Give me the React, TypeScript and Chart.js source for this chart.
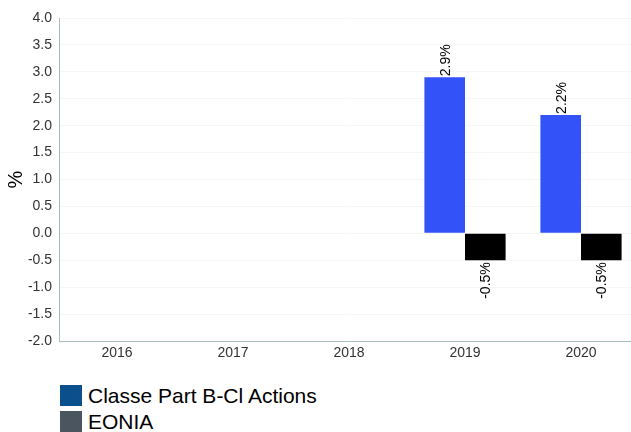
import React, { useEffect, useRef } from "react";
import { Chart, registerables } from "chart.js";

Chart.register(...registerables);

const categories = ["2016", "2017", "2018", "2019", "2020"];
const fundValues: (number | null)[] = [null, null, null, 2.9, 2.2];
const benchValues: (number | null)[] = [null, null, null, -0.5, -0.5];
const seriesNames = ["Classe Part B-Cl Actions", "EONIA"];
const barColors = ["#3352F7", "#000000"];
const legendColors = ["#0B4F8C", "#4A555F"];

const FONT = "Arial, 'Liberation Sans', sans-serif";

const labelPlugin = {
  id: "barLabels",
  afterDatasetsDraw(chart: any) {
    const ctx = chart.ctx;
    chart.data.datasets.forEach((ds: any, di: number) => {
      const meta = chart.getDatasetMeta(di);
      meta.data.forEach((el: any, i: number) => {
        const v = ds.data[i];
        if (v === null || v === undefined) return;
        const text = v.toFixed(1) + "%";
        ctx.save();
        ctx.font = "14px " + FONT;
        ctx.fillStyle = "#000";
        ctx.textBaseline = "middle";
        if (v >= 0) {
          ctx.translate(el.x + 1, el.y - 1);
          ctx.rotate(-Math.PI / 2);
          ctx.textAlign = "left";
        } else {
          ctx.translate(el.x + 1, el.y + 2);
          ctx.rotate(-Math.PI / 2);
          ctx.textAlign = "right";
        }
        ctx.fillText(text, 0, 0);
        ctx.restore();
      });
    });
  },
};

export default function App() {
  const ref = useRef<HTMLCanvasElement>(null);
  useEffect(() => {
    if (!ref.current) return;
    const chart = new Chart(ref.current, {
      type: "bar",
      data: {
        labels: categories,
        datasets: [
          { label: seriesNames[0], data: fundValues, backgroundColor: barColors[0] },
          { label: seriesNames[1], data: benchValues, backgroundColor: barColors[1] },
        ],
      },
      options: {
        animation: false,
        responsive: false,
        maintainAspectRatio: false,
        layout: { padding: { top: 18, right: 0, left: 0, bottom: 0 } },
        datasets: { bar: { categoryPercentage: 0.7, barPercentage: 1.0 } },
        plugins: {
          legend: { display: false },
          tooltip: { enabled: false },
        },
        scales: {
          x: {
            grid: { display: false, drawTicks: false },
            border: { color: "#A9BCC0", width: 1 },
            ticks: { color: "#333", font: { size: 14, family: FONT }, padding: 4 },
            afterFit(scale: any) {
              scale.height = 24;
            },
          },
          y: {
            min: -2,
            max: 4,
            ticks: {
              stepSize: 0.5,
              color: "#333",
              font: { size: 14, family: FONT },
              padding: 7,
              callback: (v: any) => Number(v).toFixed(1),
            },
            grid: { color: "rgba(0,0,0,0.035)", drawTicks: false },
            border: { color: "#A9BCC0", width: 1 },
            title: {
              display: true,
              text: "%",
              color: "#000",
              font: { size: 20, family: FONT },
              padding: { top: 4, bottom: 0 },
            },
            afterFit(scale: any) {
              scale.width = 59;
            },
          },
        },
      },
      plugins: [labelPlugin],
    });
    return () => chart.destroy();
  }, []);

  return (
    <div style={{ position: "absolute", left: 0, top: 0, width: 631, height: 432, overflow: "hidden", background: "#fff", fontFamily: FONT }}>
      <canvas ref={ref} width={639} height={365} style={{ display: "block", width: 639, height: 365 }} />
      <div style={{ position: "absolute", left: 60, top: 383 }}>
        {seriesNames.map((n, i) => (
          <div key={n} style={{ display: "flex", alignItems: "center", height: 25, marginBottom: 1, whiteSpace: "nowrap" }}>
            <span style={{ display: "inline-block", width: 22, height: 21, background: legendColors[i] }} />
            <span style={{ marginLeft: 6, fontSize: 21, color: "#000", lineHeight: "25px" }}>{n}</span>
          </div>
        ))}
      </div>
    </div>
  );
}
